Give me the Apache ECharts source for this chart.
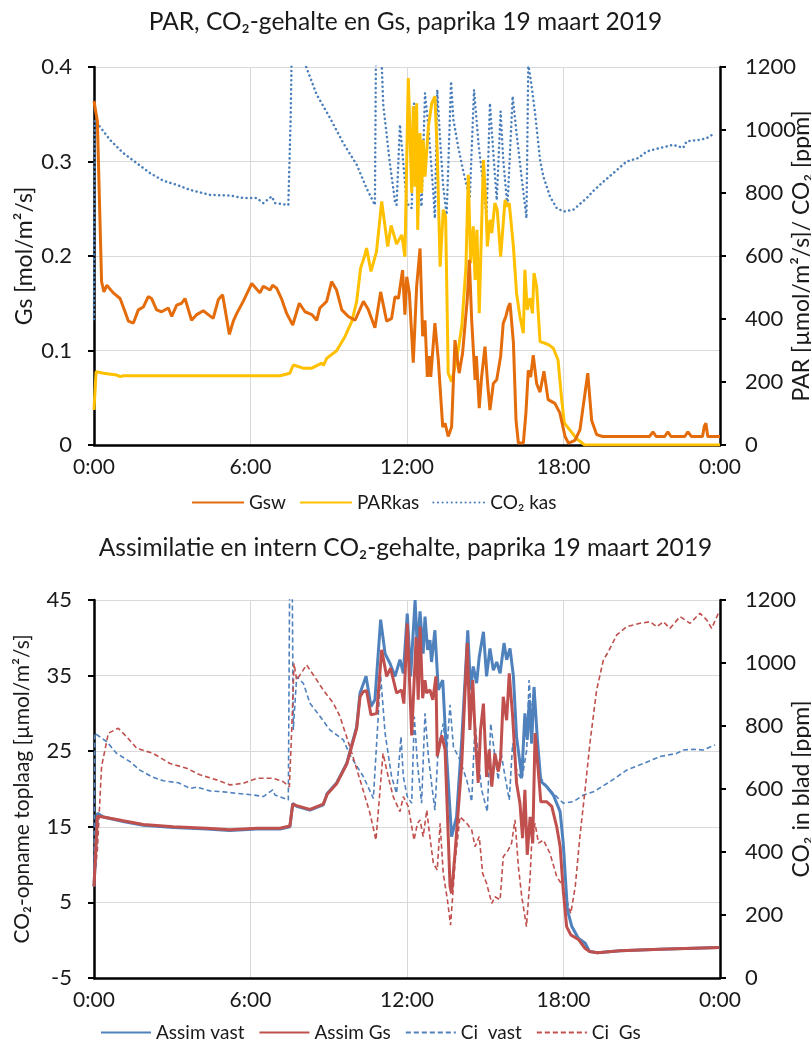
<!DOCTYPE html>
<html>
<head>
<meta charset="utf-8">
<script src="https://cdn.jsdelivr.net/npm/echarts@6/dist/echarts.min.js"></script>
<style>
html, body { margin: 0; padding: 0; background: #fff; }
#chart { width: 811px; height: 1045px; }
</style>
</head>
<body>
<div id="chart"></div>
<script>
// time in hours since 0:00
const xLabels = ['0:00', '6:00', '12:00', '18:00', '0:00'];

// top chart: Gs [mol/m2/s]
const gsw = [[0,.364],[.13,.342],[.29,.173],[.38,.162],[.49,.169],[.74,.161],[1.0,.155],[1.19,.141],[1.32,.131],[1.51,.129],[1.70,.143],[1.89,.146],[2.08,.157],[2.21,.155],[2.40,.143],[2.59,.141],[2.85,.145],[2.98,.136],[3.17,.148],[3.36,.150],[3.49,.155],[3.74,.132],[3.94,.138],[4.19,.142],[4.38,.138],[4.57,.134],[4.77,.154],[4.93,.159],[5.19,.117],[5.34,.131],[5.47,.139],[5.72,.152],[6.05,.171],[6.36,.161],[6.49,.168],[6.75,.164],[6.85,.169],[7.00,.166],[7.20,.154],[7.39,.139],[7.62,.127],[7.87,.150],[8.09,.141],[8.35,.138],[8.54,.132],[8.66,.145],[8.92,.152],[9.11,.173],[9.30,.164],[9.50,.143],[9.75,.136],[10.01,.132],[10.33,.152],[10.52,.143],[10.77,.124],[10.99,.162],[11.22,.131],[11.41,.134],[11.54,.157],[11.67,.155],[11.83,.185],[11.92,.138],[11.99,.178],[12.09,.161],[12.24,.087],[12.37,.168],[12.50,.208],[12.60,.115],[12.69,.132],[12.78,.072],[12.86,.094],[12.91,.072],[13.07,.129],[13.20,.090],[13.37,.019],[13.46,.023],[13.58,.009],[13.71,.019],[13.84,.111],[14.00,.076],[14.13,.097],[14.31,.154],[14.39,.196],[14.48,.132],[14.61,.069],[14.66,.094],[14.77,.039],[14.86,.072],[14.99,.104],[15.08,.069],[15.18,.037],[15.31,.065],[15.44,.069],[15.59,.094],[15.69,.129],[15.79,.136],[15.88,.146],[15.95,.150],[16.08,.108],[16.18,.026],[16.27,.002],[16.46,.002],[16.56,.034],[16.65,.079],[16.74,.072],[16.84,.095],[16.97,.065],[17.10,.056],[17.25,.078],[17.41,.048],[17.67,.044],[17.86,.034],[18.06,.009],[18.19,.002],[18.44,.005],[18.63,.016],[18.93,.076],[19.08,.026],[19.27,.011],[19.5,.009],[21.3,.009],[21.43,.014],[21.55,.009],[21.88,.009],[22.0,.014],[22.12,.009],[22.65,.009],[22.77,.014],[22.9,.009],[23.33,.009],[23.40,.020],[23.46,.023],[23.53,.009],[24,.009]];

// top chart: PAR [umol/m2/s]
const parKas = [[0,111],[.08,233],[.36,228],[.87,222],[1.0,217],[1.12,220],[7.13,220],[7.51,228],[7.64,254],[8.02,244],[8.35,244],[8.73,260],[8.80,253],[8.92,275],[9.30,299],[9.62,344],[9.88,392],[10.07,455],[10.22,561],[10.39,604],[10.45,625],[10.62,551],[10.83,614],[11.03,773],[11.26,630],[11.39,697],[11.60,638],[11.80,667],[11.92,598],[12.05,1165],[12.18,800],[12.24,1075],[12.31,820],[12.37,1085],[12.41,683],[12.50,990],[12.56,800],[12.62,969],[12.69,852],[12.82,1011],[12.95,1085],[13.07,1107],[13.16,927],[13.27,566],[13.39,747],[13.48,725],[13.58,228],[13.71,201],[13.90,270],[14.10,376],[14.26,566],[14.35,858],[14.44,577],[14.54,694],[14.61,524],[14.68,683],[14.77,418],[14.93,905],[15.03,757],[15.08,630],[15.18,715],[15.25,673],[15.37,768],[15.46,746],[15.59,598],[15.76,778],[15.85,757],[15.92,768],[16.08,630],[16.20,482],[16.33,408],[16.46,355],[16.52,556],[16.61,429],[16.72,466],[16.81,418],[16.87,546],[16.97,503],[17.10,328],[17.29,323],[17.44,318],[17.61,307],[17.79,270],[17.92,153],[18.03,70],[18.24,48],[18.49,21],[18.81,0],[24,0]];

// top chart: CO2 in greenhouse [ppm]
const co2Kas = [[0,400],[.03,1032],[.1,1032],[.61,969],[1.12,927],[1.64,895],[2.15,863],[2.66,839],[3.17,826],[3.68,810],[4.45,794],[5.21,792],[5.72,784],[6.24,784],[6.49,768],[6.81,789],[6.94,768],[7.45,762],[7.51,762],[7.54,1038],[7.58,1250],[8.09,1210],[8.54,1112],[9.05,1038],[9.56,958],[10.07,890],[10.45,815],[10.77,762],[10.81,1250],[11.03,1210],[11.09,1080],[11.35,890],[11.54,773],[11.60,762],[11.73,1017],[11.88,874],[11.99,768],[12.18,752],[12.27,1085],[12.44,820],[12.56,757],[12.69,1117],[12.82,1011],[13.01,800],[13.07,720],[13.16,1128],[13.27,969],[13.39,820],[13.52,731],[13.69,1154],[13.78,1032],[13.97,943],[14.16,868],[14.31,815],[14.41,789],[14.57,1128],[14.74,958],[14.93,820],[15.05,725],[15.18,1085],[15.31,927],[15.44,778],[15.59,1059],[15.69,905],[15.85,757],[16.05,1107],[16.20,990],[16.39,852],[16.58,720],[16.65,1210],[16.78,1138],[16.91,1054],[17.10,905],[17.23,852],[17.48,789],[17.74,752],[18.0,741],[18.06,736],[18.38,747],[18.89,784],[19.15,807],[19.53,836],[19.91,863],[20.42,900],[20.87,911],[21.19,932],[21.70,943],[22.21,953],[22.59,943],[22.72,964],[23.23,969],[23.49,974],[23.80,990]];

// bottom chart: CO2 uptake [umol/m2/s]
const assimVast = [[0,7.1],[.13,16.8],[.36,16.3],[1.12,15.7],[1.89,15.2],[3.04,14.9],[4.32,14.7],[5.21,14.5],[6.24,14.7],[7.13,14.7],[7.51,15.0],[7.62,18.1],[7.77,17.7],[8.28,17.2],[8.79,17.9],[8.94,19.4],[9.30,20.8],[9.69,23.4],[10.07,28.2],[10.20,32.7],[10.43,34.9],[10.62,30.9],[10.77,31.8],[10.99,42.4],[11.16,37.9],[11.35,36.6],[11.54,34.9],[11.73,37.1],[11.86,35.3],[12.01,43.2],[12.14,34.9],[12.31,45.0],[12.40,38.4],[12.50,43.5],[12.62,37.9],[12.69,42.8],[12.79,38.4],[12.88,39.7],[12.94,36.8],[13.07,41.0],[13.20,33.1],[13.37,34.4],[13.52,24.3],[13.71,13.7],[13.90,16.3],[14.10,26.5],[14.33,41.0],[14.44,33.1],[14.54,36.2],[14.67,34.0],[14.77,37.5],[14.93,40.8],[15.05,34.9],[15.18,38.6],[15.31,35.7],[15.44,36.8],[15.57,35.3],[15.72,39.3],[15.82,37.1],[15.95,38.6],[16.08,34.9],[16.20,26.9],[16.40,21.6],[16.52,30.0],[16.61,26.5],[16.69,31.8],[16.78,26.0],[16.87,33.5],[17.0,26.5],[17.13,21.0],[17.36,20.3],[17.61,19.2],[17.87,17.0],[17.99,12.8],[18.15,4.0],[18.32,1.8],[18.57,0.25],[18.83,-0.4],[19.0,-1.5],[19.3,-1.65],[20.17,-1.4],[21.70,-1.2],[23.97,-0.95]];

const assimGs = [[0,7.1],[.13,16.4],[.36,16.3],[1.12,15.8],[1.89,15.3],[3.04,15.0],[4.32,14.8],[5.21,14.6],[6.24,14.8],[7.13,14.8],[7.51,15.1],[7.62,18.0],[7.77,17.8],[8.28,17.3],[8.79,18.0],[8.94,19.3],[9.30,20.7],[9.69,23.3],[10.07,28.0],[10.20,32.2],[10.33,32.9],[10.45,33.0],[10.62,29.8],[10.84,30.0],[11.03,38.4],[11.22,34.9],[11.37,36.0],[11.60,32.7],[11.79,33.1],[11.88,31.3],[12.01,41.9],[12.18,27.1],[12.35,40.1],[12.43,31.8],[12.50,41.5],[12.60,32.0],[12.69,34.4],[12.75,32.7],[12.88,33.1],[12.99,31.8],[13.11,34.9],[13.16,24.3],[13.33,27.1],[13.46,25.2],[13.65,7.1],[13.71,6.2],[13.84,11.5],[14.10,23.4],[14.31,39.3],[14.41,27.8],[14.52,34.4],[14.61,27.4],[14.73,20.8],[14.82,27.8],[14.93,31.3],[15.05,21.6],[15.15,25.2],[15.25,20.3],[15.37,24.7],[15.50,22.3],[15.59,24.1],[15.69,32.2],[15.82,29.1],[15.92,35.3],[16.05,29.6],[16.20,20.8],[16.33,18.1],[16.43,13.5],[16.52,19.9],[16.61,11.3],[16.72,16.3],[16.82,12.8],[16.91,27.4],[17.04,22.1],[17.13,18.3],[17.36,18.3],[17.55,17.7],[17.74,15.0],[17.87,12.4],[17.99,6.6],[18.12,1.8],[18.28,0.7],[18.57,0.1],[18.83,-1.1],[19.0,-1.5],[19.30,-1.65],[20.17,-1.4],[21.70,-1.2],[23.97,-0.95]];

// bottom chart: internal leaf CO2 [ppm]
const ciVast = [[0,300],[.03,777],[.1,777],[.49,750],[.87,713],[1.38,687],[1.76,660],[2.21,639],[2.66,626],[3.23,620],[3.68,602],[3.94,606],[4.45,594],[4.96,591],[5.47,586],[6.11,581],[6.49,576],[6.85,597],[6.94,581],[7.45,565],[7.50,1250],[7.60,1250],[7.64,787],[7.77,956],[8.03,935],[8.28,872],[8.67,830],[9.05,787],[9.56,756],[9.81,708],[10.33,639],[10.71,570],[10.99,960],[11.16,777],[11.41,639],[11.60,586],[11.77,766],[11.86,639],[12.01,576],[12.18,555],[12.28,830],[12.40,681],[12.56,555],[12.69,840],[12.82,703],[12.94,618],[13.07,533],[13.20,734],[13.39,808],[13.52,713],[13.65,867],[13.78,734],[14.03,692],[14.29,629],[14.48,560],[14.61,808],[14.73,703],[14.86,597],[15.08,528],[15.21,808],[15.37,703],[15.50,629],[15.59,724],[15.76,639],[15.92,565],[16.05,745],[16.20,660],[16.40,629],[16.59,724],[16.68,946],[16.78,830],[16.87,925],[16.97,787],[17.10,639],[17.36,607],[17.61,586],[17.99,555],[18.38,560],[18.77,581],[19.15,591],[19.78,623],[20.42,660],[21.06,681],[21.70,703],[22.34,713],[22.59,724],[22.98,726],[23.36,724],[23.81,740]];

const ciGs = [[0,300],[.13,406],[.29,671],[.55,777],[.93,793],[1.25,766],[1.64,729],[2.27,713],[2.91,681],[3.55,666],[4.06,645],[4.70,629],[5.21,613],[5.72,618],[6.24,634],[6.88,634],[7.26,623],[7.49,607],[7.58,787],[7.67,999],[7.77,946],[8.15,994],[8.54,946],[8.79,914],[9.18,872],[9.43,830],[9.81,734],[10.20,629],[10.58,523],[10.81,438],[11.08,713],[11.28,639],[11.47,576],[11.73,528],[11.86,576],[12.05,544],[12.27,438],[12.40,491],[12.50,502],[12.62,449],[12.76,533],[12.86,459],[13.01,364],[13.16,343],[13.27,491],[13.39,332],[13.55,248],[13.67,168],[13.84,364],[14.03,512],[14.29,491],[14.48,470],[14.61,417],[14.77,449],[14.90,332],[15.05,301],[15.25,237],[15.37,258],[15.57,248],[15.69,385],[15.88,406],[16.01,428],[16.14,502],[16.27,353],[16.40,258],[16.58,163],[16.72,322],[16.78,428],[16.91,491],[17.04,428],[17.23,438],[17.48,396],[17.74,322],[17.99,290],[18.18,230],[18.28,205],[18.45,290],[18.63,450],[18.83,600],[19.02,750],[19.27,914],[19.53,1010],[19.72,1036],[20.04,1089],[20.42,1115],[20.93,1126],[21.32,1131],[21.57,1115],[21.83,1131],[22.08,1110],[22.47,1147],[22.85,1126],[23.23,1158],[23.49,1137],[23.68,1110],[23.94,1158]];

const font = 'Lato, "Noto Sans", sans-serif';
const txt = '#1a1a1a';

function xAxisFor(grid) {
  return {
    type: 'value', gridIndex: grid, min: 0, max: 24, interval: 6,
    axisLine: { show: true, onZero: false, lineStyle: { color: '#000', width: 2.5 } },
    axisTick: { show: false },
    splitLine: { show: true, lineStyle: { color: '#d9d9d9', width: 1 } },
    axisLabel: { margin: 12, color: txt, fontSize: 21, fontFamily: font,
      formatter: (v) => xLabels[Math.round(v / 6)] }
  };
}

function yAxisFor(grid, pos, min, max, interval, name, nameSize, gap, fmt, split) {
  return {
    type: 'value', gridIndex: grid, position: pos, min: min, max: max, interval: interval,
    name: name, nameLocation: 'middle', nameRotate: 90, nameGap: gap, nameMoveOverlap: false,
    nameTextStyle: { color: txt, fontSize: nameSize, fontFamily: font },
    axisLine: { show: true, onZero: false, lineStyle: { color: '#000', width: 2.5 } },
    axisTick: { show: true, inside: false, length: 6, lineStyle: { color: '#000', width: 2 } },
    splitLine: { show: split, lineStyle: { color: '#d9d9d9', width: 1 } },
    axisLabel: { margin: pos === 'left' ? 22 : 25, color: txt, fontSize: 22, fontFamily: font, formatter: fmt }
  };
}

function line(name, data, xi, yi, color, width, type, cap) {
  return {
    name: name, type: 'line', data: data, xAxisIndex: xi, yAxisIndex: yi,
    showSymbol: false, symbol: 'none', clip: true,
    lineStyle: { color: color, width: width, type: type, cap: cap || 'butt' },
    itemStyle: { color: color },
    z: 2
  };
}

const chart = echarts.init(document.getElementById('chart'), null, { renderer: 'canvas' });

chart.setOption({
  animation: false,
  backgroundColor: '#fff',
  title: [
    { text: 'PAR, CO₂-gehalte en Gs, paprika 19 maart 2019', left: 'center', top: 5,
      textStyle: { color: txt, fontSize: 24.5, fontWeight: 'normal', fontFamily: font } },
    { text: 'Assimilatie en intern CO₂-gehalte, paprika 19 maart 2019', left: 'center', top: 531,
      textStyle: { color: txt, fontSize: 24.5, fontWeight: 'normal', fontFamily: font } }
  ],
  legend: [
    { data: ['Gsw', 'PARkas', 'CO₂ kas'], top: 488, left: 186, itemWidth: 52, itemHeight: 14, itemGap: 13,
      itemStyle: { opacity: 0 },
      textStyle: { color: txt, fontSize: 19, fontFamily: font } },
    { data: ['Assim vast', 'Assim Gs', 'Ci  vast', 'Ci  Gs'], top: 1018, left: 95, itemWidth: 50, itemHeight: 14, itemGap: 14,
      itemStyle: { opacity: 0 },
      textStyle: { color: txt, fontSize: 19, fontFamily: font } }
  ],
  grid: [
    { left: 94, right: 91, top: 67, height: 378, outerBoundsMode: 'none', containLabel: false },
    { left: 94, right: 91, top: 600, height: 378, outerBoundsMode: 'none', containLabel: false }
  ],
  xAxis: [xAxisFor(0), xAxisFor(1)],
  yAxis: [
    yAxisFor(0, 'left', 0, 0.4, 0.1, 'Gs [mol/m²/s]', 23, 58, (v) => v === 0 ? '0' : v.toFixed(1), true),
    yAxisFor(0, 'right', 0, 1200, 200, 'PAR [µmol/m²/s]/ CO₂ [ppm]', 23, 70, (v) => String(v), false),
    yAxisFor(1, 'left', -5, 45, 10, 'CO₂-opname toplaag [µmol/m²/s]', 21, 61, (v) => String(v), true),
    yAxisFor(1, 'right', 0, 1200, 200, 'CO₂ in blad [ppm]', 23, 70, (v) => String(v), false)
  ],
  series: [
    line('CO₂ kas', co2Kas, 0, 1, '#4a7ebb', 2.5, [0.1, 4.5], 'round'),
    line('PARkas', parKas, 0, 1, '#ffc000', 3, 'solid'),
    line('Gsw', gsw, 0, 0, '#e46c0a', 3, 'solid'),
    line('Ci  vast', ciVast, 1, 3, '#4f81bd', 1.6, [5, 3]),
    line('Ci  Gs', ciGs, 1, 3, '#c0504d', 1.6, [5, 3]),
    line('Assim vast', assimVast, 1, 2, '#4f81bd', 3, 'solid'),
    line('Assim Gs', assimGs, 1, 2, '#c0504d', 3, 'solid')
  ]
});
</script>
</body>
</html>
